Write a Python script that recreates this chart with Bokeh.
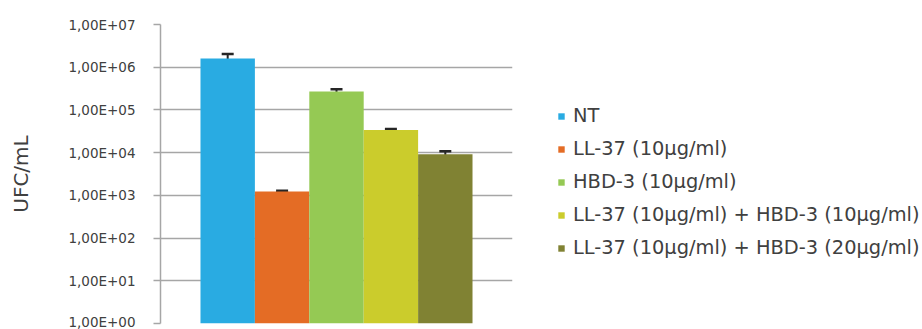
from bokeh.plotting import figure
from bokeh.models import (ColumnDataSource, Range1d, FixedTicker, CustomJSTickFormatter,
                          Whisker, TeeHead, Legend, LegendItem)
from bokeh.embed import file_html
from bokeh.resources import INLINE

# ---- data ----
categories = ["NT", "LL-37 (10µg/ml)", "HBD-3 (10µg/ml)",
              "LL-37 (10µg/ml) + HBD-3 (10µg/ml)", "LL-37 (10µg/ml) + HBD-3 (20µg/ml)"]
values = [1.6e6, 1.23e3, 2.7e5, 3.4e4, 9.2e3]
errors = [0.45e6, 0.06e3, 0.35e5, 0.18e4, 1.6e3]
colors = ["#29ABE2", "#E46C25", "#95C954", "#CBCC2C", "#808233"]
tick_values = [1e0, 1e1, 1e2, 1e3, 1e4, 1e5, 1e6, 1e7]
tick_labels = ["1,00E+00", "1,00E+01", "1,00E+02", "1,00E+03",
               "1,00E+04", "1,00E+05", "1,00E+06", "1,00E+07"]
y_title = "UFC/mL"

FONT = "DejaVu Sans"
TXT = "#404040"

src = ColumnDataSource(dict(
    x=list(range(len(categories))),
    top=values,
    upper=[v + e for v, e in zip(values, errors)],
    lower=[v - e for v, e in zip(values, errors)],
    color=colors,
    cat=categories,
))

p = figure(y_axis_type="log",
           x_range=Range1d(-1.235, len(categories) - 1 + 1.235),
           y_range=Range1d(tick_values[0], tick_values[-1]),
           output_backend="svg", toolbar_location=None,
           min_border_left=160, min_border_right=30,
           min_border_top=24, min_border_bottom=6)
p.frame_width = 352
p.frame_height = 299
p.outline_line_color = None
p.background_fill_color = "white"

r = p.vbar(x="x", top="top", bottom=tick_values[0], width=1.0, fill_color="color",
           line_color=None, source=src)

w = Whisker(base="x", upper="upper", lower="lower", source=src,
            line_color="#262626", line_width=2,
            upper_head=TeeHead(size=12, line_color="#262626", line_width=2.5),
            lower_head=TeeHead(size=12, line_color="#262626", line_width=2.5))
p.add_layout(w)

p.xaxis.visible = False
p.xgrid.visible = False
p.ygrid.grid_line_color = "#A6A6A6"
p.ygrid.grid_line_width = 1.5
p.ygrid.ticker = FixedTicker(ticks=tick_values)

ya = p.yaxis[0]
ya.ticker = FixedTicker(ticks=tick_values, minor_ticks=[])
ya.formatter = CustomJSTickFormatter(args=dict(labels=tick_labels),
                                     code="return labels[Math.round(Math.log10(tick))];")
ya.axis_line_color = "#A6A6A6"
ya.axis_line_width = 1.5
ya.major_tick_line_color = "#A6A6A6"
ya.major_tick_line_width = 1.5
ya.major_tick_out = 7
ya.major_tick_in = 0
ya.minor_tick_line_color = None
ya.major_label_text_font = FONT
ya.major_label_text_font_size = "13.5px"
ya.major_label_text_color = TXT
ya.major_label_standoff = 18
ya.axis_label = y_title
ya.axis_label_text_font = FONT
ya.axis_label_text_font_size = "20px"
ya.axis_label_text_font_style = "normal"
ya.axis_label_text_color = TXT
ya.axis_label_standoff = 32

items = [LegendItem(label=c, renderers=[r], index=i) for i, c in enumerate(categories)]
legend = Legend(items=items, location=(45, 64), orientation="vertical",
                border_line_color=None, background_fill_alpha=0,
                padding=0, margin=0, spacing=10,
                glyph_width=8, glyph_height=8, label_height=20,
                label_standoff=8,
                label_text_font=FONT, label_text_font_size="19.4px",
                label_text_color=TXT)
p.add_layout(legend, "right")

open("out.html", "w").write(file_html(p, INLINE))
